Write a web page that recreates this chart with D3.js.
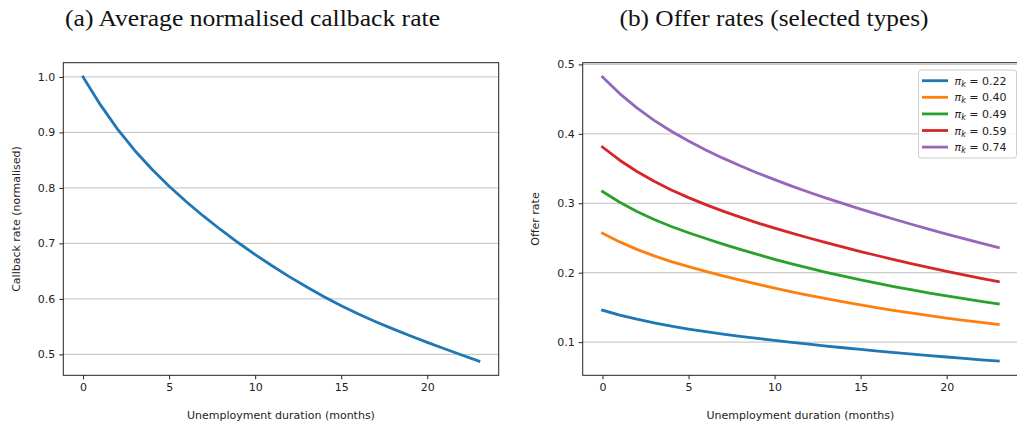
<!DOCTYPE html>
<html>
<head>
<meta charset="utf-8">
<script src="https://cdn.jsdelivr.net/npm/d3@7"></script>
<style>
  html, body { margin: 0; padding: 0; background: #fff; }
  svg { display: block; }
  .tick text { font-family: "DejaVu Sans", sans-serif; font-size: 11px; fill: #222; }
</style>
</head>
<body>
<svg id="chart" width="1017" height="425"></svg>
<script>
// Months since job loss
const months = d3.range(0, 24);

// Panel (a): average callback rate, normalised to month 0
const callbackRate = [1.0000, 0.9500, 0.9060, 0.8675, 0.8335, 0.8030, 0.7750, 0.7490, 0.7246, 0.7016,
  0.6798, 0.6592, 0.6397, 0.6213, 0.6039, 0.5875, 0.5727, 0.5589, 0.5459, 0.5335, 0.5216, 0.5101, 0.4989, 0.4879];

// Panel (b): offer rates for selected worker types
const typeLabels = ["0.22", "0.40", "0.49", "0.59", "0.74"];
const offer022 = [0.1460, 0.1390, 0.1330, 0.1277, 0.1230, 0.1188, 0.1150, 0.1115, 0.1083, 0.1053, 0.1025, 0.0997,
  0.0970, 0.0944, 0.0919, 0.0895, 0.0872, 0.0850, 0.0828, 0.0807, 0.0786, 0.0766, 0.0746, 0.0727];
const offer040 = [0.2570, 0.2444, 0.2336, 0.2242, 0.2160, 0.2088, 0.2020, 0.1955, 0.1893, 0.1834, 0.1778, 0.1725,
  0.1675, 0.1627, 0.1581, 0.1537, 0.1495, 0.1455, 0.1417, 0.1381, 0.1346, 0.1314, 0.1284, 0.1255];
const offer049 = [0.3170, 0.3015, 0.2882, 0.2766, 0.2665, 0.2576, 0.2492, 0.2412, 0.2336, 0.2263, 0.2193, 0.2127,
  0.2065, 0.2006, 0.1950, 0.1896, 0.1845, 0.1797, 0.1751, 0.1707, 0.1665, 0.1625, 0.1587, 0.1550];
const offer059 = [0.3810, 0.3620, 0.3457, 0.3316, 0.3192, 0.3081, 0.2980, 0.2887, 0.2800, 0.2718, 0.2641, 0.2569,
  0.2500, 0.2433, 0.2368, 0.2305, 0.2244, 0.2185, 0.2128, 0.2073, 0.2020, 0.1969, 0.1920, 0.1873];
const offer074 = [0.4820, 0.4580, 0.4373, 0.4194, 0.4037, 0.3896, 0.3768, 0.3650, 0.3540, 0.3437, 0.3340, 0.3247,
  0.3159, 0.3075, 0.2994, 0.2916, 0.2840, 0.2766, 0.2694, 0.2624, 0.2556, 0.2490, 0.2426, 0.2364];
const offerSeries = [offer022, offer040, offer049, offer059, offer074];

// Tick values
const xTicks = [0, 5, 10, 15, 20];
const yTicksA = [0.5, 0.6, 0.7, 0.8, 0.9, 1.0];
const yTicksB = [0.1, 0.2, 0.3, 0.4, 0.5];

const palette = ["#1f77b4", "#ff7f0e", "#2ca02c", "#d62728", "#9467bd"];

const svg = d3.select("#chart");
const plotTop = 62.7, plotBottom = 375.3;

// Domain with 5% padding on each side, like matplotlib's autoscale
function padded(lo, hi) {
  const m = (hi - lo) * 0.05;
  return [lo - m, hi + m];
}

function panel(opts) {
  const g = svg.append("g");
  const x = d3.scaleLinear().domain(padded(0, 23)).range([opts.left, opts.right]);
  const allY = opts.series.flat();
  const y = d3.scaleLinear().domain(padded(d3.min(allY), d3.max(allY))).range([plotBottom, plotTop]);

  // horizontal grid
  g.append("g").selectAll("line").data(opts.yTicks).join("line")
    .attr("x1", opts.left).attr("x2", opts.right)
    .attr("y1", d => y(d)).attr("y2", d => y(d))
    .attr("stroke", "#b0b0b0").attr("stroke-width", 0.8);

  // series lines
  const line = d3.line().x((d, i) => x(months[i])).y(d => y(d));
  opts.series.forEach((s, i) => {
    g.append("path").datum(s)
      .attr("d", line)
      .attr("fill", "none")
      .attr("stroke", opts.colors[i])
      .attr("stroke-width", 2.8)
      .attr("stroke-linejoin", "round")
      .attr("stroke-linecap", "square");
  });

  // frame
  g.append("rect")
    .attr("x", opts.left).attr("y", plotTop)
    .attr("width", opts.right - opts.left).attr("height", plotBottom - plotTop)
    .attr("fill", "none").attr("stroke", "#222").attr("stroke-width", 1);

  // axes
  const xAxis = d3.axisBottom(x).tickValues(xTicks).tickSize(4).tickPadding(4).tickFormat(d3.format("d"));
  const gx = g.append("g").attr("transform", `translate(0,${plotBottom})`).call(xAxis);
  gx.select(".domain").remove();
  gx.selectAll(".tick line").attr("stroke", "#222");

  const yAxis = d3.axisLeft(y).tickValues(opts.yTicks).tickSize(4).tickPadding(4).tickFormat(d3.format(".1f"));
  const gy = g.append("g").attr("transform", `translate(${opts.left},0)`).call(yAxis);
  gy.select(".domain").remove();
  gy.selectAll(".tick line").attr("stroke", "#222");

  // axis labels
  g.append("text")
    .attr("x", (opts.left + opts.right) / 2).attr("y", 419)
    .attr("text-anchor", "middle")
    .attr("font-family", "DejaVu Sans, sans-serif").attr("font-size", 11).attr("fill", "#222")
    .text("Unemployment duration (months)");
  g.append("text")
    .attr("transform", `translate(${opts.ylabelX},${(plotTop + plotBottom) / 2}) rotate(-90)`)
    .attr("text-anchor", "middle").attr("dominant-baseline", "central")
    .attr("font-family", "DejaVu Sans, sans-serif").attr("font-size", 11).attr("fill", "#222")
    .text(opts.ylabel);

  // panel title
  svg.append("text")
    .attr("x", opts.titleX).attr("y", 25.5)
    .attr("font-family", "Liberation Serif, serif").attr("font-size", 22.5).attr("fill", "#111")
    .attr("textLength", opts.titleLen).attr("lengthAdjust", "spacingAndGlyphs")
    .text(opts.title);

  return { g, x, y };
}

panel({
  left: 63.3, right: 498.7,
  series: [callbackRate], colors: [palette[0]],
  yTicks: yTicksA,
  ylabel: "Callback rate (normalised)", ylabelX: 16,
  title: "(a) Average normalised callback rate", titleX: 65, titleLen: 375
});

const pb = panel({
  left: 582.7, right: 1018.1,
  series: offerSeries, colors: palette,
  yTicks: yTicksB,
  ylabel: "Offer rate", ylabelX: 535,
  title: "(b) Offer rates (selected types)", titleX: 619.5, titleLen: 309
});

// legend
const leg = pb.g.append("g").attr("transform", "translate(918.5,70)");
leg.append("rect")
  .attr("width", 98).attr("height", 88).attr("rx", 2.5)
  .attr("fill", "#fff").attr("fill-opacity", 0.8)
  .attr("stroke", "#cccccc").attr("stroke-width", 1);
typeLabels.forEach((lab, i) => {
  const cy = 10.7 + i * 16.6;
  leg.append("line")
    .attr("x1", 3.5).attr("x2", 29.5).attr("y1", cy).attr("y2", cy)
    .attr("stroke", palette[i]).attr("stroke-width", 2.8);
  const t = leg.append("text")
    .attr("x", 36).attr("y", cy + 4)
    .attr("font-family", "DejaVu Sans, sans-serif").attr("font-size", 11).attr("fill", "#222");
  t.append("tspan").attr("font-style", "italic").text("π");
  t.append("tspan").attr("font-style", "italic").attr("font-size", 8).attr("dy", 2).text("k");
  t.append("tspan").attr("dy", -2).text(" = " + lab);
});
</script>
</body>
</html>
